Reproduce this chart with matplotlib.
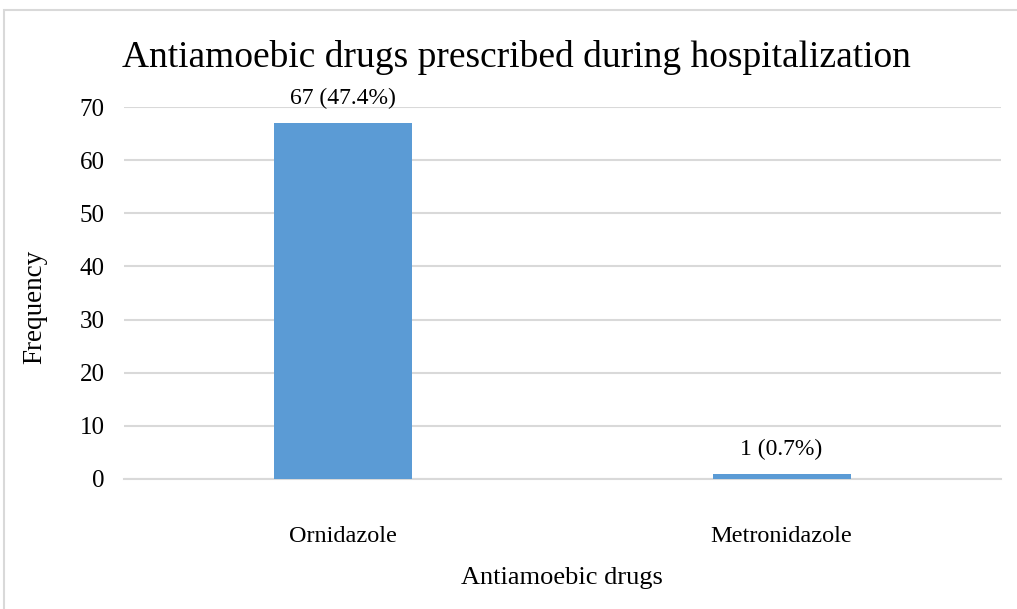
import matplotlib.pyplot as plt
from matplotlib.patches import Rectangle

drugs = ['Ornidazole', 'Metronidazole']
frequency = [67, 1]
percent = [47.4, 0.7]
y_ticks = [0, 10, 20, 30, 40, 50, 60, 70]

plt.rcParams['font.family'] = ['Liberation Serif', 'DejaVu Serif']

fig = plt.figure(figsize=(10.17, 6.09), dpi=100)
ax = fig.add_axes([0.122, 0.2135, 0.862, 0.6108])

# light chart frame, running off the right and bottom edges
fig.patches.append(Rectangle((4 / 1017, -0.1), 1.2, 1 - 10 / 609 + 0.1,
                             transform=fig.transFigure, fill=False,
                             edgecolor='#d9d9d9', linewidth=1.5, zorder=0))

bars = ax.bar(range(len(drugs)), frequency, width=0.315, color='#5b9bd5', zorder=3)

for b, f, p in zip(bars, frequency, percent):
    ax.annotate(f'{f} ({p}%)', (b.get_x() + b.get_width() / 2, b.get_height()),
                xytext=(0, 10), textcoords='offset points',
                ha='center', va='bottom', fontsize=17, annotation_clip=False)

ax.set_xlim(-0.5, 1.5)
ax.set_ylim(0, 70)
ax.set_yticks(y_ticks)
ax.set_xticks(range(len(drugs)))
ax.set_xticklabels(drugs, fontsize=17.5)
ax.tick_params(axis='y', labelsize=18, length=0, pad=14)
ax.tick_params(axis='x', length=0, pad=34)

ax.grid(axis='y', color='#d9d9d9', linewidth=1.5, zorder=0)
for s in ['top', 'right', 'left']:
    ax.spines[s].set_visible(False)
ax.spines['bottom'].set_color('#d9d9d9')
ax.spines['bottom'].set_linewidth(1.5)

ax.set_xlabel('Antiamoebic drugs', fontsize=19, labelpad=14)
ax.set_ylabel('Frequency', fontsize=19.5, labelpad=23)
ax.yaxis.label.set_y(0.462)
fig.text(0.508, 0.906, 'Antiamoebic drugs prescribed during hospitalization',
         ha='center', va='center', fontsize=27)

fig.savefig('out.png', dpi=100)
